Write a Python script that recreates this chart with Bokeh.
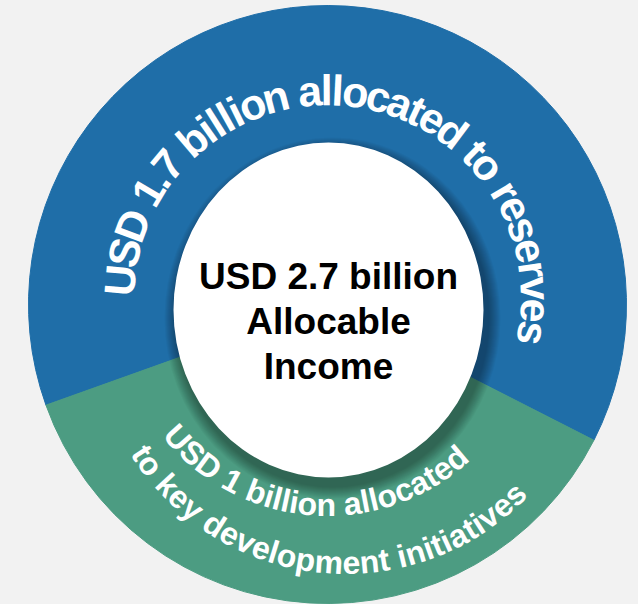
import math
from bokeh.plotting import figure
from bokeh.models import ColumnDataSource
from bokeh.core.properties import value
from bokeh.embed import file_html
from bokeh.resources import INLINE

# ---------------- data ----------------
segments = ["Reserves", "Key development initiatives"]
amounts = [1.7, 1.0]  # USD billion
seg_colors = ["#1F6EA8", "#4C9C82"]
blue_label = ["USD 1.7 billion allocated to reserves"]
green_label = ["USD 1 billion allocated", "to key development initiatives"]
center_lines = ["USD 2.7 billion", "Allocable", "Income"]

# ---------------- layout / style ----------------
BG = "#F2F2F2"
W, H = 638, 604
PAGE_H = 604
CX, CY = 327, PAGE_H - 304
R_OUT = 299
START_DEG = -27.0
FONT = "Liberation Sans"
K = 0.33  # empirical baseline shift of rendered glyphs (em)

CW = {" ": 278, ".": 278, "1": 556, "2": 556, "7": 556, "U": 722, "S": 667, "D": 722,
      "a": 556, "b": 611, "c": 556, "d": 611, "e": 556, "i": 278, "k": 556, "l": 278,
      "m": 889, "n": 611, "o": 611, "p": 611, "r": 389, "s": 556, "t": 333, "v": 556,
      "y": 556}


def cw(ch):
    return CW.get(ch, 556) / 1000.0


p = figure(width=W, height=H, x_range=(0, W), y_range=(PAGE_H - H, PAGE_H),
           output_backend="svg", toolbar_location=None, min_border=0, title=None,
           x_axis_type=None, y_axis_type=None,
           background_fill_color=BG, border_fill_color=BG, outline_line_color=None)

total = sum(amounts)
angles = []
a0 = math.radians(START_DEG)
for v in amounts:
    a1 = a0 + 2 * math.pi * v / total
    angles.append((a0, a1))
    a0 = a1

src = ColumnDataSource(dict(start=[a[0] for a in angles], end=[a[1] for a in angles],
                            color=seg_colors, name=segments))
p.wedge(x=CX, y=CY, radius=R_OUT, start_angle="start", end_angle="end",
        fill_color="color", line_color="color", line_width=1, source=src)

EX, EY = 328, PAGE_H - 309.5
EW, EH = 310, 335
for k in range(12):
    grow = 26 - 2 * k
    p.ellipse(x=EX + 4, y=EY - 8, width=EW + grow, height=EH + grow,
              fill_color="black", fill_alpha=0.033, line_color=None)
p.ellipse(x=EX, y=EY, width=EW, height=EH, fill_color="white", line_color=None)


def arc_chars(text, cx, cy, r_base, mid, glyph, adv, outward):
    ws = [cw(c) * adv for c in text]
    if outward:
        radv = r_base + 0.28 * glyph
        ranc = r_base + K * glyph
    else:
        radv = r_base - 0.28 * glyph
        ranc = r_base - K * glyph
    tot = sum(ws)
    xs, ys, ts, angs = [], [], [], []
    cum = 0.0
    for c, w in zip(text, ws):
        s = cum + w / 2
        if outward:
            th = mid + tot / (2 * radv) - s / radv
            rot = th - math.pi / 2
        else:
            th = mid - tot / (2 * radv) + s / radv
            rot = th + math.pi / 2
        cum += w
        if c == " ":
            continue
        xs.append(cx + ranc * math.cos(th))
        ys.append(cy + ranc * math.sin(th))
        ts.append(c)
        angs.append(rot)
    return dict(x=xs, y=ys, text=ts, angle=angs)


# blue label: tops outward, read clockwise over the top
blue_mid = (angles[0][0] + angles[0][1]) / 2 - math.radians(3.2)
d = arc_chars(blue_label[0], CX, PAGE_H - 298, 194, blue_mid, 43, 40, True)
p.text(x="x", y="y", text="text", angle="angle", source=ColumnDataSource(d),
       text_font=value(FONT), text_font_style="bold", text_font_size="43px",
       text_color="white", text_align="center", text_baseline="alphabetic")

# green label: tops inward, two lines
green_mid = (angles[1][0] + angles[1][1]) / 2
g_specs = [  # centre x, centre y (page), baseline radius, angle offset, glyph, advance
    (327, 304, 211, -0.8, 32, 30.8),
    (345, 320, 253, -2.3, 32, 31.3),
]
for line, (gx, gy, rb, off, gs, ad) in zip(green_label, g_specs):
    d = arc_chars(line, gx, PAGE_H - gy, rb, green_mid + math.radians(off), gs, ad, False)
    p.text(x="x", y="y", text="text", angle="angle", source=ColumnDataSource(d),
           text_font=value(FONT), text_font_style="bold", text_font_size="%dpx" % gs,
           text_color="white", text_align="center", text_baseline="alphabetic")

# centre text
base_y = [288, 333, 378]
p.text(x=[EX] * 3, y=[PAGE_H - (b - K * 37) for b in base_y], text=center_lines,
       text_font=value(FONT), text_font_style="bold", text_font_size="37px",
       text_color="black", text_align="center", text_baseline="alphabetic")

html = file_html(p, INLINE)
html = html.replace("<head>", "<head><style>html,body{background:%s;margin:0;padding:0;overflow:hidden;}</style>" % BG, 1)
open("out.html", "w").write(html)
